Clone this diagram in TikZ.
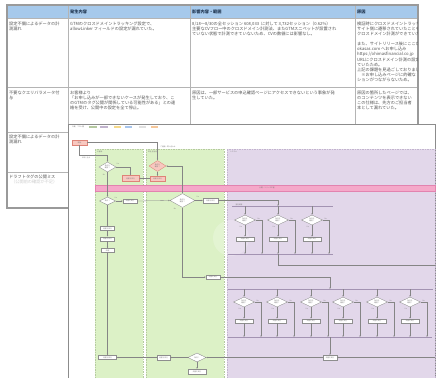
\documentclass[tikz,border=0pt]{standalone}
\usepackage{fontspec}
\newfontfamily\jp{Noto Sans CJK JP}
\usetikzlibrary{shapes.geometric,arrows.meta,calc}
\definecolor{hdr}{HTML}{A6C9EB}
\definecolor{hdrt}{HTML}{1F3550}
\definecolor{txt}{HTML}{555555}
\definecolor{grid}{HTML}{B4B4B4}
\definecolor{frame}{HTML}{9A9A9A}
\definecolor{ovb}{HTML}{8C8C8C}
\definecolor{lgreen}{HTML}{DCF1C6}
\definecolor{lgreenb}{HTML}{B5C9A0}
\definecolor{lpurple}{HTML}{E2D7EA}
\definecolor{lpurpleb}{HTML}{C2B4CE}
\definecolor{pband}{HTML}{F5A8C9}
\definecolor{pbandb}{HTML}{E283AF}
\definecolor{rbf}{HTML}{F8C8C0}
\definecolor{rbd}{HTML}{DE8478}
\definecolor{bx}{HTML}{8E8E8E}
\definecolor{lc}{HTML}{858585}
\definecolor{busc}{HTML}{A393B2}
\definecolor{tg}{HTML}{7A7A7A}
\definecolor{chipy}{HTML}{F5D98A}
\definecolor{chipb}{HTML}{A8C6EE}
\definecolor{chipo}{HTML}{F6C79A}
\tikzset{
  cell/.style={anchor=north west, inner sep=0pt, align=left, font=\jp\fontsize{4.2}{5.1}\selectfont, text=txt},
  hdrtxt/.style={anchor=west, inner sep=0pt, font=\jp\bfseries\fontsize{4.2}{5}\selectfont, text=hdrt},
  mini/.style={font=\jp\fontsize{1.7}{2}\selectfont, text=tg, inner sep=0pt, align=center},
  fbox/.style={rectangle, draw=bx, fill=white, line width=0.35pt, mini},
  rbox/.style={fbox, draw=rbd, fill=rbf},
  fdia/.style={diamond, draw=bx, fill=white, line width=0.35pt, mini},
  rdia/.style={fdia, draw=rbd, fill=rbf},
  conn/.style={draw=lc, line width=0.3pt, -{Stealth[length=1.6pt,width=1.3pt]}},
  plain/.style={draw=lc, line width=0.3pt},
  bus/.style={draw=busc, line width=1pt},
  lbl/.style={mini, text=tg},
  lane/.style={line width=0.4pt, dash pattern=on 1.5pt off 1pt},
}
\begin{document}
\begin{tikzpicture}[x=1pt,y=-1pt]
\useasboundingbox (0,0) rectangle (437,378);
\fill[white] (0,0) rectangle (437,378);

% ---------------- table ----------------
\fill[hdr] (7,5) rectangle (418,18.5);
\foreach \yy in {18.5,87,132,172} \draw[grid, line width=0.5pt] (7,\yy) -- (418,\yy);
\foreach \xx in {68,190,355} \draw[grid, line width=0.5pt] (\xx,5) -- (\xx,208);
\draw[frame, line width=1.1pt] (7,5) rectangle (418,208);

\node[hdrtxt] (h2) at (70,11.8) {発生内容};
\node[hdrtxt] (h3) at (192,11.8) {影響内容・範囲};
\node[hdrtxt] (h4) at (357,11.8) {原因};

\node[cell] (r1c1) at (9,21.6) {設定不備によるデータの計\\測漏れ};
\node[cell] (r1c2) at (70,21.6) {GTMのクロスドメイントラッキング設定で、\\allowLinker フィールドの設定が漏れていた。};
\node[cell] (r1c3) at (192,21.6) {8/18～8/30の全セッション 608,033 \ に対して 3,732セッション（0.62\%）\\主要なCVフロー中のクロスドメイン計測法、またGTMスニペットが設置され\\ていない状態で計測できていないため、CVの数値には影響なし。};
\begin{scope}
\clip (356,19) rectangle (417.5,131);
\node[cell] (r1c4) at (357,21.6) {検証時にクロスドメイントラッキング\\サイト側に遷移されていたことを\\クロスドメイン計測ができていた\\[5.1pt]また、サイトリリース後にここから\\okasas.com へお申し込み\\https://ohimasfinancial.co.jp\\URLにクロスドメイン計測の設定が\\ていたため。\\上記の課題を見過ごしておりました\\　※お申し込みページに的確な\\ションがつながらないため。};
\node[cell] (r2c4) at (357,90.6) {原因の箇所したページでは、\\のコンテンツを表示できない\\この仕様は、先方のご担当者\\本として漏れていた。};
\end{scope}
\node[cell] (r2c1) at (9,90.6) {不要なクエリパラメータ付\\与};
\node[cell] (r2c2) at (70,90.6) {お客様より\\「お申し込みが一部できないケースが発生しており、こ\\のGTMのタグ公開が関係している可能性がある」との連\\絡を受け、公開中の設定を全て停止。};
\node[cell] (r2c3) at (192,90.6) {原因は、一部サービスの申込確認ページにアクセスできないという事象が発\\生していた。};
\node[cell] (r3c1) at (9,134.6) {設定不備によるデータの計\\測漏れ};
\node[cell] (r4c1) at (9,174.6) {ドラフトタグの公開ミス};
\node[cell, text=black!20] (r4c1b) at (11,179.7) {（公開前の確認が不足）};

% ---------------- overlay screenshot ----------------
\fill[white] (68,124) rectangle (435,378);
\draw[ovb, line width=0.6pt] (68,124) -- (435,124) -- (435,378);
\draw[ovb, line width=1.6pt] (68.6,124) -- (68.6,378);

% legend
\node[lbl, anchor=west, text=black!60] (leg) at (72,126.6) {凡例　フロー図};
\filldraw[fill=lgreen, draw=lgreenb, line width=0.2pt] (89,125.8) rectangle (96,127.5);
\filldraw[fill=lpurple, draw=lpurpleb, line width=0.2pt] (100,125.8) rectangle (107,127.5);
\fill[chipy] (114,125.8) rectangle (121,127.5);
\fill[chipb] (125,125.8) rectangle (132,127.5);
\fill[black!12] (139,125.8) rectangle (146,127.5);
\fill[chipo] (151,125.8) rectangle (158,127.5);

% lanes
\filldraw[fill=lgreen, draw=lgreenb, lane] (95,149) rectangle (143,378);
\filldraw[fill=lgreen, draw=lgreenb, lane] (146,149) rectangle (224,378);
\filldraw[fill=lpurple, draw=lpurpleb, lane] (227,149) rectangle (435,378);
\node[lbl, anchor=west] (ln1) at (97,152) {お客様};
\node[lbl, anchor=west] (ln2) at (148,152) {弊社 担当者};
\node[lbl, anchor=west] (ln3) at (230,152) {システム};

% pink band
\filldraw[fill=pband, draw=pbandb, line width=0.4pt] (95,185.5) rectangle (435,191);
\node[lbl, text=black!55] (bandl) at (267,188.3) {公開・リリース工程};

% watermark
\fill[white, opacity=0.22] (231,238) circle (18);

% ---------------- flow nodes ----------------
\node[rbox, minimum width=15pt, minimum height=5pt] (start) at (79.5,142.5) {開始};
\node[fdia, minimum width=17pt, minimum height=10pt] (D1) at (107.5,167) {条件を\\確認？};
\node[rdia, minimum width=17pt, minimum height=11pt] (D2) at (157.5,166) {条件を\\確認？};
\node[rbox, minimum width=17pt, minimum height=6pt] (B1) at (130.5,178.5) {処理を実行};
\node[rbox, minimum width=15pt, minimum height=4.5pt] (B2) at (157.5,178.5) {処理を実行};
\node[fdia, minimum width=16pt, minimum height=8pt] (D3) at (107.5,201) {条件？};
\node[fbox, minimum width=14pt, minimum height=4pt] (B3) at (130,201) {処理を実行};
\node[fdia, minimum width=25pt, minimum height=14pt] (D4) at (182.5,200.5) {条件を\\確認？};
\node[fbox, minimum width=15pt, minimum height=4.5pt] (B4) at (210.5,200.5) {処理を実行};
\node[fbox, minimum width=14pt, minimum height=4pt] (B5) at (213,277) {処理を実行};
\node[fbox, minimum width=14pt, minimum height=4pt] (L1) at (107.5,228.5) {処理を実行};
\node[fbox, minimum width=14pt, minimum height=4.5pt] (L2) at (107.5,239) {処理を実行};
\node[fbox, minimum width=13pt, minimum height=4pt] (L3) at (107.5,250.5) {処理};
\node[fbox, minimum width=18pt, minimum height=4pt] (L4) at (107.5,357.5) {処理を実行};
\node[fbox, minimum width=13pt, minimum height=4.5pt] (B6) at (163.5,357.5) {処理を実行};
\node[fdia, minimum width=18pt, minimum height=9pt] (D5) at (197,357.5) {条件？};
\node[fbox, minimum width=18pt, minimum height=5pt] (B8) at (197,371.5) {処理を実行};
\node[fbox, minimum width=14pt, minimum height=4.5pt] (B7) at (330,357.5) {処理を実行};

\foreach \i/\x in {1/245,2/278,3/312} {
  \node[fdia, minimum width=21pt, minimum height=10pt] (P\i) at (\x,220) {条件を\\確認？};
  \node[fbox, minimum width=18pt, minimum height=4.5pt] (Q\i) at (\x,239) {処理を実行};
  \coordinate (PS\i) at (\x+17,254);
}
\foreach \i/\x in {1/244,2/277,3/311,4/343,5/377,6/410} {
  \node[fdia, minimum width=21pt, minimum height=10pt] (R\i) at (\x,302) {条件を\\確認？};
  \node[fbox, minimum width=18pt, minimum height=4.5pt] (S\i) at (\x,321) {処理を実行};
  \coordinate (RS\i) at (\x+17,337);
}

% bus bars
\coordinate (bus1a) at (232,206); \coordinate (bus1b) at (333,206);
\coordinate (bus2a) at (228,254); \coordinate (bus2b) at (333,254);
\coordinate (bus3a) at (228,289); \coordinate (bus3b) at (433,289);
\coordinate (bus4a) at (228,337); \coordinate (bus4b) at (432,337);
\draw[bus] (bus1a) -- (bus1b);
\draw[bus] (bus2a) -- (bus2b);
\draw[bus] (bus3a) -- (bus3b);
\draw[bus] (bus4a) -- (bus4b);

% helper coordinates
\coordinate (c1) at (79.5,155);
\coordinate (b1j) at (278,206);
\coordinate (b3j) at (330,289);
\coordinate (e1) at (435,265);
\coordinate (e2) at (435,357.5);

% ---------------- connectors ----------------
\draw[conn] (start.south) -- (c1) -| (D1.north);
\draw[conn] (start.east) -| (D2.north);
\draw[conn] (D1.east) -| (B1.north);
\draw[conn] (D2.south) -- (B2.north);
\draw[conn] (B2.west) -- (B1.east);
\draw[conn] (D4.north) |- (D2.east);
\draw[conn] (D1.south) -- (D3.north);
\draw[conn] (D3.east) -- (B3.west);
\draw[conn] (B3.east) -- (D4.west);
\draw[conn] (D4.east) -- (B4.west);
\draw[conn] (B4.east) -| (b1j);
\draw[conn] (D3.south) -- (L1.north);
\draw[conn] (L1.south) -- (L2.north);
\draw[conn] (L2.south) -- (L3.north);
\draw[conn] (L3.south) -- (L4.north);
\draw[conn] (D4.south) |- (B5.west);
\draw[conn] (B5.east) -| (b3j);
\draw[conn] (e2) -- (B7.east);
\draw[conn] (bus4a -| B7) -- (B7.north);
\draw[conn] (B7.west) -- (D5.east);
\draw[conn] (D5.west) -- (B6.east);
\draw[conn] (B6.west) -- (L4.east);
\draw[conn] (D5.south) -- (B8.north);
\draw[plain] (bus2a -| Q2) |- (e1);

\foreach \i in {1,2,3} {
  \draw[conn] (bus1a -| P\i) -- (P\i.north);
  \draw[conn] (P\i.south) -- (Q\i.north);
  \draw[conn] (P\i.east) -| (PS\i);
  \draw[conn] (Q\i.south) -- (bus2a -| Q\i);
  \node[lbl] at ($(P\i.south)+(-4,2)$) {Yes};
  \node[lbl] at ($(P\i.east)+(3,-1.5)$) {No};
}
\foreach \i in {1,...,6} {
  \draw[conn] (bus3a -| R\i) -- (R\i.north);
  \draw[conn] (R\i.south) -- (S\i.north);
  \draw[conn] (R\i.east) -| (RS\i);
  \draw[conn] (S\i.south) -- (bus4a -| S\i);
  \node[lbl] at ($(R\i.south)+(-4,2)$) {Yes};
  \node[lbl] at ($(R\i.east)+(3,-1.5)$) {No};
}

% small connector labels
\node[lbl] (t1) at (86,158) {お申し込み};
\node[lbl] (t2) at (168,147) {ご連絡・問い合わせ};
\node[lbl] (t3) at (118,164) {Yes};
\node[lbl] (t4) at (104,175) {No};
\node[lbl] (t5) at (116,197.5) {Yes};
\node[lbl] (t6) at (198,196.5) {Yes};
\node[lbl] (t7) at (175,209) {No};
\node[lbl] (t8) at (239,205) {並列処理};
\end{tikzpicture}
\end{document}
